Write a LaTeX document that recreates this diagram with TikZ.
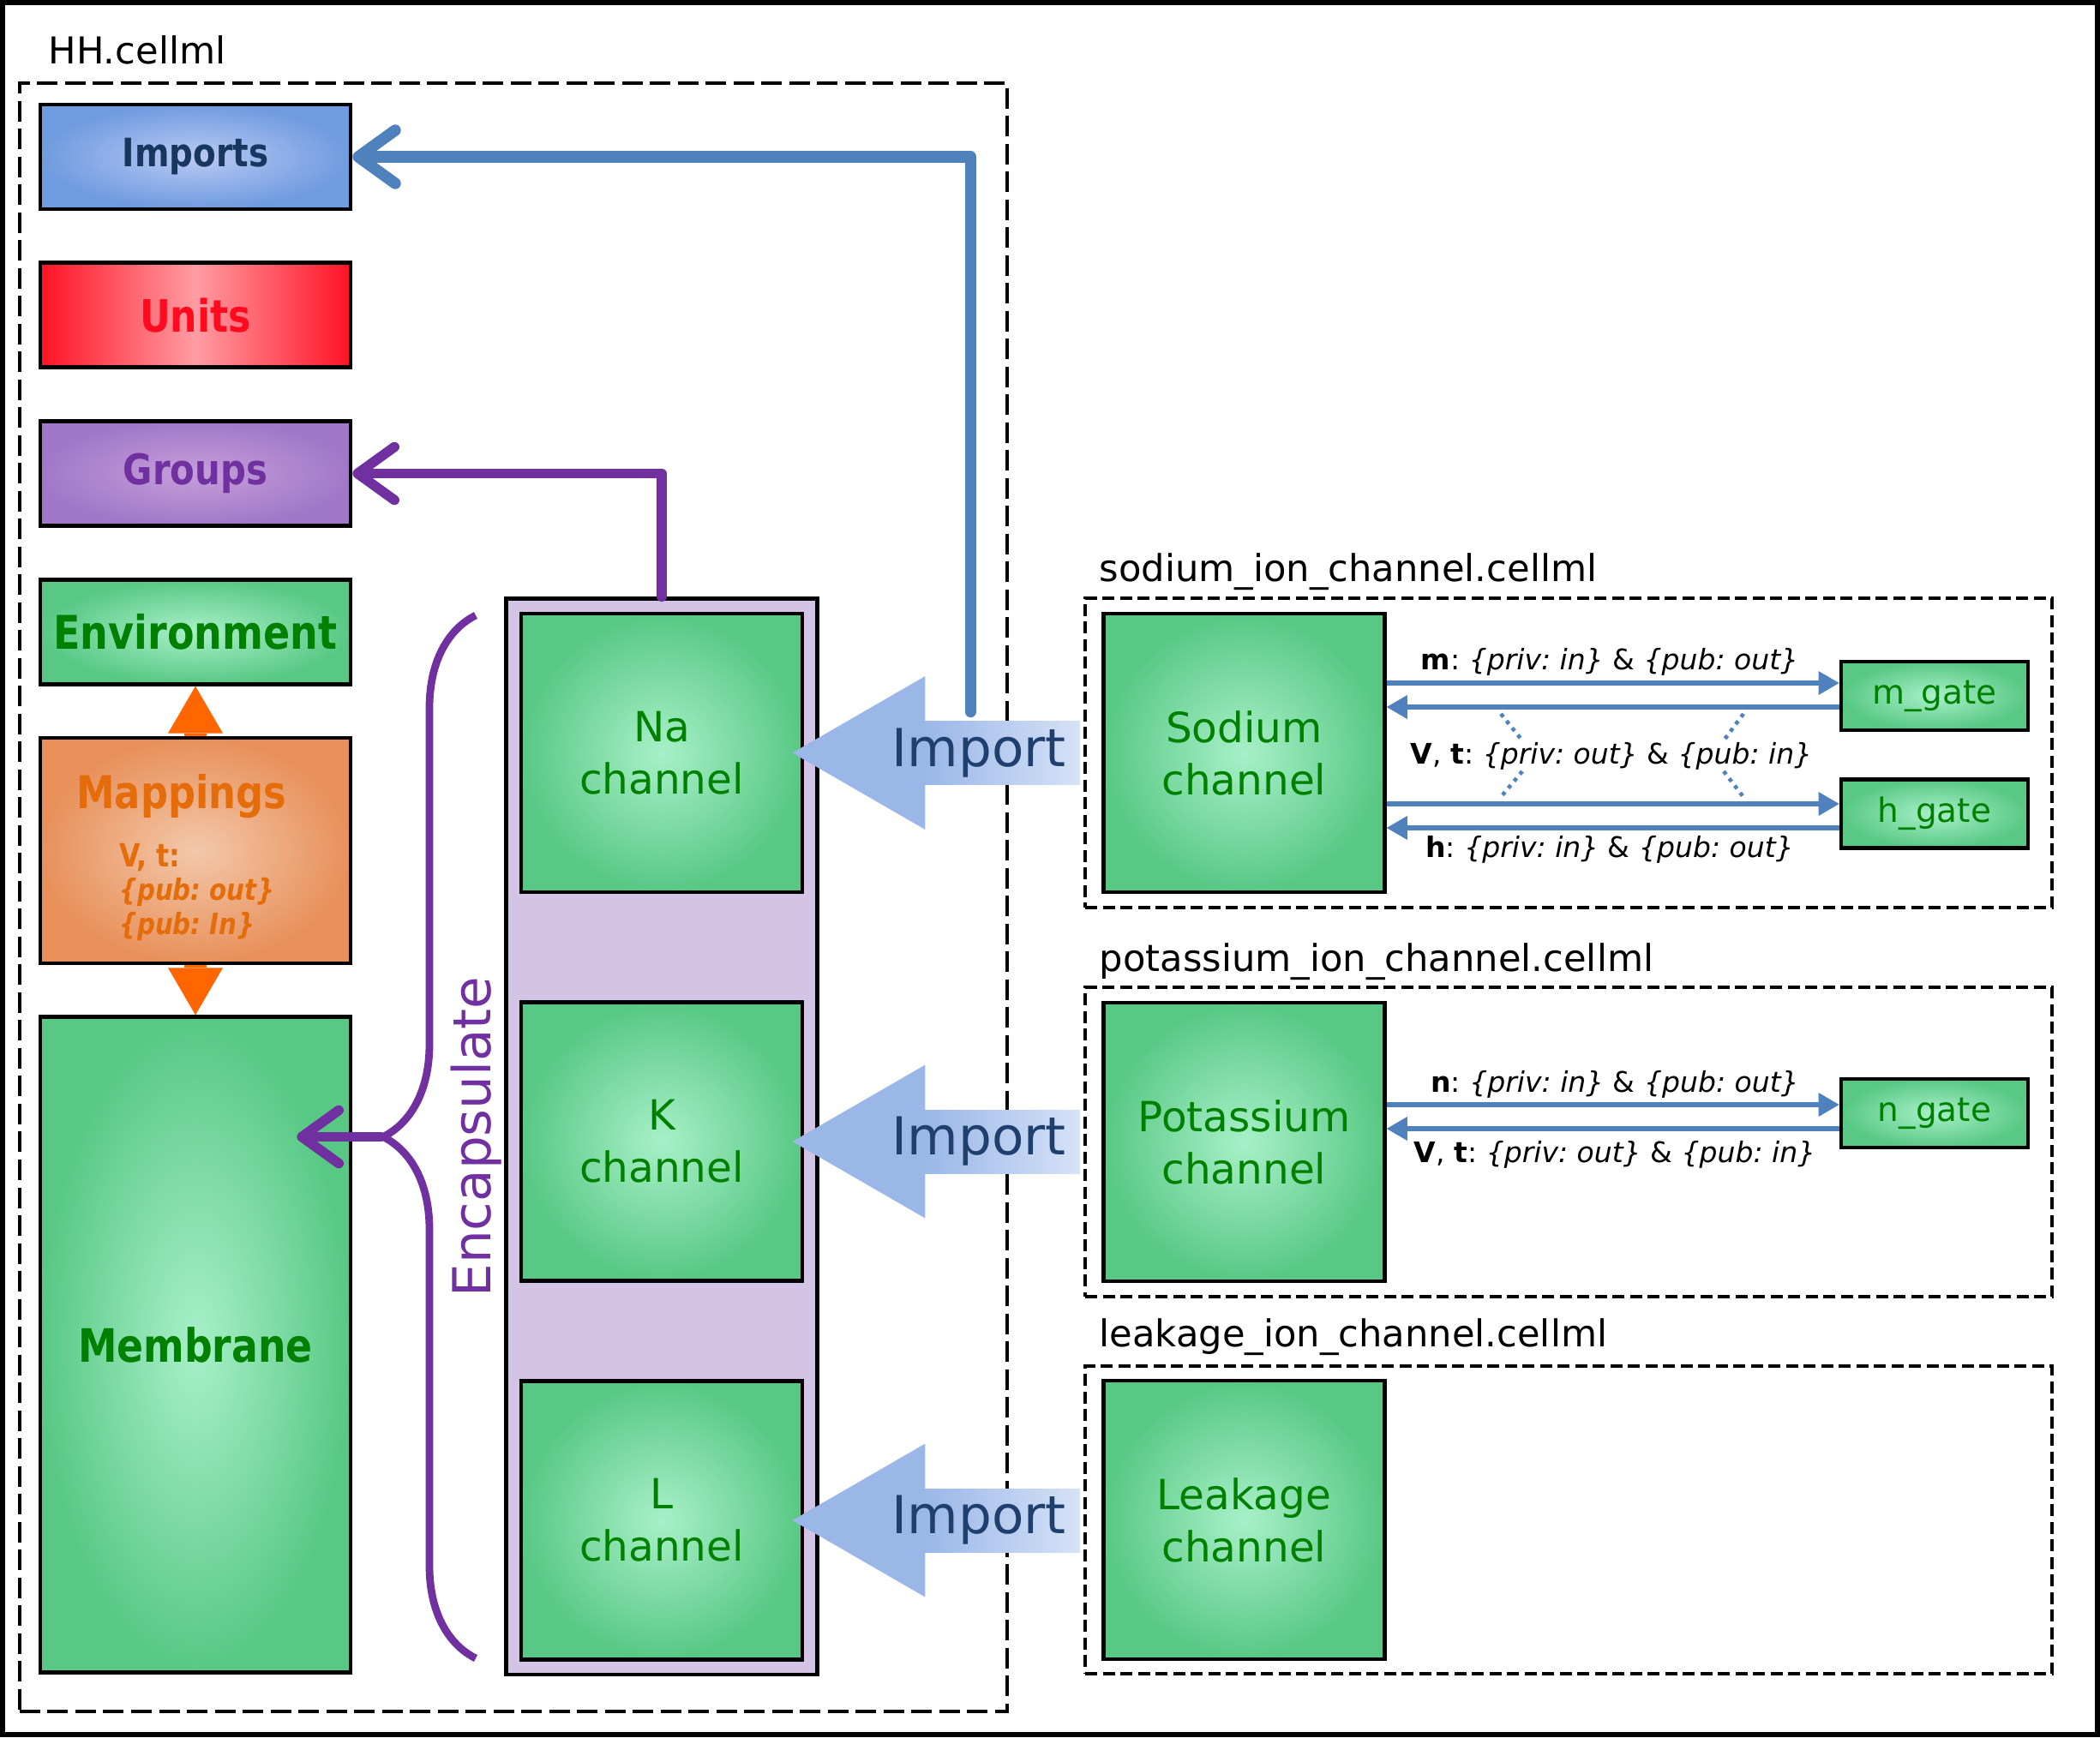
\documentclass[tikz,border=0pt]{standalone}
\usepackage{fontspec}
\setmainfont{DejaVu Sans}
\newfontfamily\condsans[FakeStretch=0.85]{DejaVu Sans}
\usepackage{tikz}
\usetikzlibrary{positioning,arrows.meta,calc,fit,backgrounds,decorations.pathreplacing}
\definecolor{linkblue}{RGB}{79,129,189}
\definecolor{importtxt}{RGB}{31,63,111}
\definecolor{importhead}{RGB}{154,183,232}
\definecolor{importfade}{RGB}{214,226,247}
\definecolor{impout}{RGB}{111,155,224}
\definecolor{impin}{RGB}{186,201,243}
\definecolor{imptxt}{RGB}{23,55,94}
\definecolor{unitred}{RGB}{255,18,36}
\definecolor{unitpink}{RGB}{255,156,163}
\definecolor{unittxt}{RGB}{255,10,30}
\definecolor{grpout}{RGB}{161,120,200}
\definecolor{grpin}{RGB}{198,158,218}
\definecolor{grape}{RGB}{112,48,160}
\definecolor{mint}{RGB}{168,240,200}
\definecolor{leaf}{RGB}{88,200,132}
\definecolor{leaftxt}{RGB}{0,128,0}
\definecolor{mapout}{RGB}{232,144,90}
\definecolor{mapin}{RGB}{243,200,170}
\definecolor{maptxt}{RGB}{228,108,10}
\definecolor{maparrow}{RGB}{255,102,0}
\definecolor{lilac}{RGB}{211,195,228}
\tikzset{
  blk/.style    ={draw=black, line width=1.35pt, align=center, inner sep=0pt},
  lblk/.style   ={blk, minimum width=36.2mm, minimum height=12.2mm,
                  font=\condsans\bfseries\fontsize{#1pt}{#1pt}\selectfont},
  lblk/.default =15,
  grn/.style    ={inner color=mint, outer color=leaf, text=leaftxt},
  chan/.style   ={blk, grn, minimum width=32.8mm, minimum height=32.5mm,
                  font=\fontsize{13.8pt}{17.4pt}\selectfont},
  gate/.style   ={blk, grn, minimum width=21.8mm, minimum height=8mm,
                  font=\fontsize{11.1pt}{13pt}\selectfont},
  file/.style   ={draw, line width=1.1pt, dash pattern=on 1.4mm off 0.65mm, inner sep=0pt},
  fname/.style  ={anchor=west, inner sep=0pt, font=\fontsize{12.3pt}{14pt}\selectfont},
  maptitle/.style={anchor=base west, inner sep=0pt, text=maptxt,
                  font=\condsans\bfseries\fontsize{15pt}{15pt}\selectfont},
  mapvar/.style ={anchor=base west, inner sep=0pt, text=maptxt,
                  font=\condsans\bfseries\fontsize{#1pt}{#1pt}\selectfont},
  mapvar/.default=9.8,
  sig/.style    ={-{Triangle[length=2.4mm,width=2.8mm,line width=0pt]}, draw=linkblue, line width=1.6pt},
  siglbl/.style ={inner sep=0pt, font=\fontsize{9.4pt}{11pt}\selectfont},
  dotlnk/.style ={draw=linkblue, line width=1.3pt, dash pattern=on 0.45mm off 0.6mm},
  backref/.style={-{Straight Barb[length=4.3mm,width=6.2mm,round]}, line join=round, line cap=round},
  imptxt/.style ={inner sep=0pt, text=importtxt, font=\fontsize{17.4pt}{20pt}\selectfont},
  maparr/.style ={-{Triangle[length=5.5mm,width=6.4mm,line width=0pt]}, draw=maparrow, line width=2.6mm},
}

\begin{document}
\frenchspacing
\begin{tikzpicture}[x=1mm, y=-1mm, node distance=5.8mm]
\useasboundingbox (0,0) rectangle (245,202.7);
\draw[line width=0.6mm] (0.3,0.3) rectangle (244.7,202.4);

% HH model
\node[file, dash pattern=on 2.4mm off 0.85mm, minimum width=115.2mm, minimum height=190mm] (hh) at (59.9,104.7) {};
\node[fname] (hhname) at (5.6,5.8) {HH.cellml};

\node[lblk=13, inner color=impin, outer color=impout, text=imptxt] (imports) at (22.8,18.3) {Imports};
\node[lblk=14.8, below=of imports, left color=unitred, right color=unitred, middle color=unitpink, text=unittxt] (units) {Units};
\node[lblk=14, below=of units, inner color=grpin, outer color=grpout, text=grape] (groups) {Groups};
\node[lblk=15.4, below=of groups, grn] (env) {Environment};
\node[lblk, below=of env, minimum height=26.3mm, inner color=mapin, outer color=mapout] (map) {};
\node[maptitle] (mapname) at ([xshift=4.4mm,yshift=-8.5mm]map.north west) {Mappings};
\node[mapvar=10.6] (mapvt) at ([xshift=9.4mm,yshift=-15.3mm]map.north west) {V, t:};
\node[mapvar] (mapout) at ([xshift=9.4mm,yshift=-19.2mm]map.north west) {\itshape\{pub: out\}};
\node[mapvar] (mapin) at ([xshift=9.4mm,yshift=-23.2mm]map.north west) {\itshape\{pub: In\}};
\node[lblk=15.3, below=of map, grn, minimum height=76.5mm] (membrane) {Membrane};

\node[chan] (na) at (77.2,87.85) {Na\\channel};
\node[chan] (k) at (77.2,133.2) {K\\channel};
\node[chan] (l) at (77.2,177.4) {L\\channel};
\begin{scope}[on background layer]
  \node[blk, fill=lilac, fit=(na)(k)(l), inner sep=1.5mm] (chanbox) {};
\end{scope}

% encapsulation
\draw[grape, line width=2.5pt, decorate, decoration={brace, amplitude=10.8mm}] (55.5,193.5) -- (55.5,71.8);
\coordinate (enc) at (44.4,132.65);
\node[rotate=90, inner sep=0pt, text=grape, font=\fontsize{17.4pt}{20pt}\selectfont] (enctxt) at (55.6,132.65) {Encapsulate};
\draw[backref, grape, line width=3.3pt] (enc) -- ($(membrane.east |- enc)+(-6.5,0)$);
\draw[backref, grape, line width=3.3pt] (chanbox.north) |- (groups.east);

\draw[maparr] (map.north) -- (env.south);
\draw[maparr] (map.south) -- (map.south |- membrane.north);

% imported files
\node[file, minimum width=112.8mm, minimum height=36.1mm] (sodfile) at (183,87.85) {};
\node[fname] (sodname) at (128.2,66.7) {sodium\_ion\_channel.cellml};
\node[chan, right=2.1mm of sodfile.west] (sodium) {Sodium\\channel};
\node[gate] (mgate) at (225.7,81.2) {m\_gate};
\node[gate] (hgate) at (225.7,94.95) {h\_gate};

\node[file, minimum width=112.8mm, minimum height=36.1mm] (potfile) at (183,133.25) {};
\node[fname] (potname) at (128.2,112.2) {potassium\_ion\_channel.cellml};
\node[chan, right=2.1mm of potfile.west] (potas) {Potassium\\channel};
\node[gate] (ngate) at (225.7,129.9) {n\_gate};

\node[file, minimum width=112.8mm, minimum height=35.9mm] (leakfile) at (183,177.35) {};
\node[fname] (leakname) at (128.2,156.0) {leakage\_ion\_channel.cellml};
\node[chan, right=2.1mm of leakfile.west] (leak) {Leakage\\channel};

% variable connections
\coordinate (m1) at ([yshift=1.5mm]mgate.west);
\coordinate (m2) at ([yshift=-1.3mm]mgate.west);
\coordinate (h1) at ([yshift=1.15mm]hgate.west);
\coordinate (h2) at ([yshift=-1.65mm]hgate.west);
\coordinate (n1) at ([yshift=1.0mm]ngate.west);
\coordinate (n2) at ([yshift=-1.8mm]ngate.west);
\foreach \out/\back/\ch in {m1/m2/sodium, h1/h2/sodium, n1/n2/potas}{
  \draw[sig] (\out -| \ch.east) -- (\out);
  \draw[sig] (\back) -- (\back -| \ch.east);
}
\node[siglbl] (mlbl) at (187.8,77.2) {\textbf{m}: \textit{\{priv: in\}} \& \textit{\{pub: out\}}};
\node[siglbl] (vtna) at (188,88.2) {\textbf{V}, \textbf{t}: \textit{\{priv: out\}} \& \textit{\{pub: in\}}};
\node[siglbl] (hlbl) at (187.8,99.1) {\textbf{h}: \textit{\{priv: in\}} \& \textit{\{pub: out\}}};
\node[siglbl] (nlbl) at (188.4,126.5) {\textbf{n}: \textit{\{priv: in\}} \& \textit{\{pub: out\}}};
\node[siglbl] (vtk) at (188.4,134.7) {\textbf{V}, \textbf{t}: \textit{\{priv: out\}} \& \textit{\{pub: in\}}};
\foreach \a/\b in {175.1/177.6, 203.4/201.1}{
  \draw[dotlnk] (\a,83.3) -- (\b,86.4);
  \draw[dotlnk] (\b,90.0) -- (\a,93.0);
}

% import arrows
\foreach \ch/\fl in {na/sodfile,k/potfile,l/leakfile}{
  \coordinate (tip-\ch) at ([xshift=-1.4mm]\ch.east);
  \fill[importhead] (tip-\ch) -- ++(15.5,-8.95) -- ++(0,17.9) -- cycle;
  \shade[left color=importhead, right color=importfade]
    ($(tip-\ch)+(15.4,-3.7)$) rectangle ($(\fl.west |- tip-\ch)+(-0.4,3.7)$);
  \node[imptxt] (imp-\ch) at ($(tip-\ch)+(21.8,0)$) {Import};
}
\coordinate (impsrc) at ($(tip-na)+(20.8,-4.8)$);
\draw[backref, linkblue, line width=3.8pt] (impsrc) |- (imports.east);
\end{tikzpicture}
\end{document}
